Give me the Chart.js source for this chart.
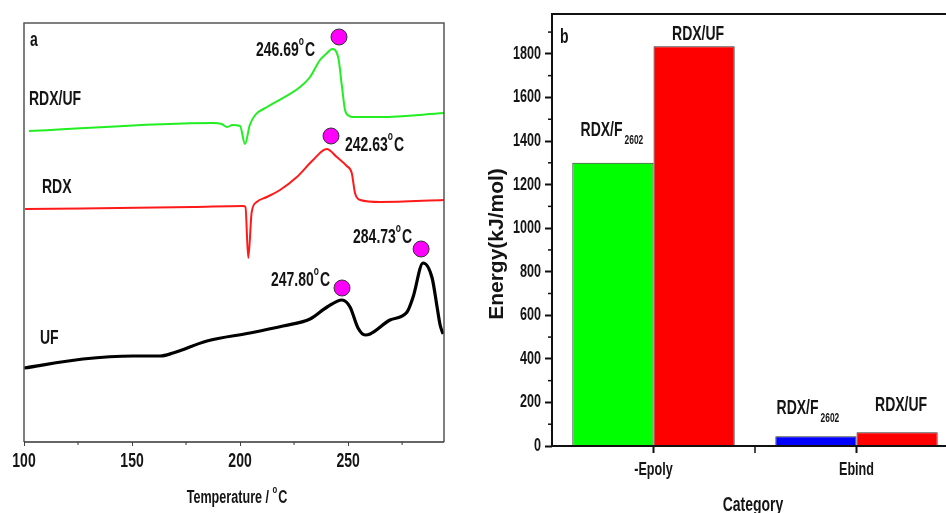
<!DOCTYPE html>
<html>
<head>
<meta charset="utf-8">
<script src="https://cdn.jsdelivr.net/npm/chart.js@4.4.1/dist/chart.umd.min.js"></script>
<style>
  html, body { margin: 0; padding: 0; background: #fff; overflow: hidden; width: 946px; height: 513px; }
  #dsc { position: absolute; left: 0; top: 0; }
  #energy { position: absolute; left: 470px; top: 0; }
</style>
</head>
<body>
<canvas id="dsc" width="470" height="513"></canvas>
<canvas id="energy" width="490" height="513"></canvas>
<script>
// ---- panel a : DSC curves (heat flow in arbitrary units) ----
const temp_rdxuf = [102.3, 187.5, 191.5, 194, 196.5, 200, 202.3, 204.5, 207, 212.5, 227.8, 232.4, 237, 240.3, 242.6, 245.4, 247.2, 248.6, 250.5, 252.3, 264.8, 294.4]
const heat_rdxuf = [31.1, 31.9, 31.8, 31.5, 31.7, 31.6, 29.8, 31.7, 32.7, 33.5, 35.5, 36.5, 38.2, 38.9, 39.3, 38.5, 35.5, 33.2, 32.6, 32.5, 32.5, 32.9]

const temp_rdx = [100.5, 178.2, 201.4, 202.5, 203.8, 205.4, 207.7, 212.4, 218.5, 226.3, 233.8, 240.1, 244.8, 249.4, 251.7, 253.2, 255.6, 264.8, 294.4]
const heat_rdx = [23.3, 23.5, 23.6, 23.5, 18.4, 23.0, 24.0, 24.5, 25.2, 26.5, 28.2, 29.3, 28.5, 27.6, 26.9, 24.9, 24.2, 24.0, 24.2]

const temp_uf = [100, 127.3, 150.5, 163, 169, 184.7, 204.6, 219.9, 232.4, 240.3, 247.2, 250.9, 254.6, 257.9, 260.2, 269.4, 277.3, 280.1, 284.7, 288.9, 291.2, 292.6, 294]
const heat_uf = [7.4, 8.3, 8.6, 8.6, 8.9, 10.1, 10.9, 11.6, 12.3, 13.5, 14.2, 13.5, 11.4, 10.7, 10.8, 12.2, 13.0, 14.5, 17.9, 16.4, 13.5, 11.7, 10.8]

const peak_temp = [245.8, 242.1, 247.2, 283.8]
const peak_heat = [40.5, 30.6, 15.4, 19.3]
const peak_text = ["246.69", "242.63", "247.80", "284.73"]

const temp_ticks = [100, 150, 200, 250]

// ---- panel b : energies ----
const categories = ["-Epoly", "Ebind"]
const energy_f2602 = [1300, 45]
const energy_uf = [1835, 63]
const energy_ticks = [0, 200, 400, 600, 800, 1000, 1200, 1400, 1600, 1800]

const FONT = "'Liberation Sans', Arial, sans-serif"
const TXT = "#141414"
const SQ = 0.7   // horizontal squeeze, the figure uses a narrow bold face

// bold text squeezed sideways; returns drawn width
function sq(ctx, text, x, y, size, align) {
    ctx.font = "bold " + size + "px " + FONT
    const w = ctx.measureText(text).width * SQ
    let x0 = x
    if (align == "right") x0 = x - w
    if (align == "center") x0 = x - w / 2
    ctx.save()
    ctx.translate(x0, y)
    ctx.scale(SQ, 1)
    ctx.textAlign = "left"
    ctx.textBaseline = "middle"
    ctx.fillText(text, 0, 0)
    ctx.restore()
    return w
}

function sqWidth(ctx, text, size) {
    ctx.font = "bold " + size + "px " + FONT
    return ctx.measureText(text).width * SQ
}

// text followed by a superscript "o" and C
function degText(ctx, str, x, y, align, size) {
    const small = Math.round(size * 0.6)
    const total = sqWidth(ctx, str, size) + sqWidth(ctx, "o", small) + sqWidth(ctx, "C", size) + 1
    let x0 = x
    if (align == "right") x0 = x - total
    if (align == "center") x0 = x - total / 2
    x0 += sq(ctx, str, x0, y, size, "left")
    x0 += sq(ctx, "o", x0, y - size * 0.42, small, "left") + 1
    sq(ctx, "C", x0, y, size, "left")
}

function zip(xs, ys) {
    return xs.map((x, i) => ({ x: x, y: ys[i] }))
}

const dscDecor = {
    id: "dscDecor",
    afterDraw(chart) {
        const ctx = chart.ctx
        const a = chart.chartArea
        const xs = chart.scales.x
        const ys = chart.scales.y
        ctx.save()
        // frame
        ctx.strokeStyle = "#555"
        ctx.lineWidth = 1.5
        ctx.beginPath()
        ctx.moveTo(a.left, a.bottom)
        ctx.lineTo(a.left, a.top)
        ctx.lineTo(a.right, a.top)
        ctx.lineTo(a.right, a.bottom)
        ctx.stroke()
        ctx.strokeStyle = "#333"
        ctx.beginPath()
        ctx.moveTo(a.left, a.bottom)
        ctx.lineTo(a.right, a.bottom)
        ctx.stroke()
        // minor ticks
        ctx.lineWidth = 1
        for (let t = 125; t < 295; t += 50) {
            const px = xs.getPixelForValue(t)
            ctx.beginPath()
            ctx.moveTo(px, a.bottom)
            ctx.lineTo(px, a.bottom + 3)
            ctx.stroke()
        }
        ctx.fillStyle = TXT
        // tick labels
        for (const t of xs.ticks)
            sq(ctx, String(t.value), xs.getPixelForValue(t.value), 461, 20, "center")
        // peak labels
        const offs = [[-24, 13, "right"], [14, 9, "left"], [-12, -8, "right"], [-9, -12, "right"]]
        for (let i = 0; i < peak_text.length; i++) {
            const px = xs.getPixelForValue(peak_temp[i])
            const py = ys.getPixelForValue(peak_heat[i])
            degText(ctx, peak_text[i], px + offs[i][0], py + offs[i][1], offs[i][2], 20)
        }
        // curve names
        sq(ctx, "RDX/UF", a.left + 5, 99, 20, "left")
        sq(ctx, "RDX", a.left + 18, 187, 20, "left")
        sq(ctx, "UF", a.left + 16, 338, 20, "left")
        sq(ctx, "a", a.left + 6, 40, 20, "left")
        // axis title
        degText(ctx, "Temperature / ", (a.left + a.right) / 2 + 3, 498, "center", 18)
        ctx.restore()
    }
}

new Chart(document.getElementById("dsc").getContext("2d"), {
    type: "scatter",
    data: {
        datasets: [
            { data: zip(temp_rdxuf, heat_rdxuf), borderColor: "#22ee22", borderWidth: 2 },
            { data: zip(temp_rdx, heat_rdx), borderColor: "#ff1a1a", borderWidth: 2 },
            { data: zip(temp_uf, heat_uf), borderColor: "#000", borderWidth: 3.2 },
            {
                data: zip(peak_temp, peak_heat), showLine: false, pointRadius: 8,
                backgroundColor: "#ff00ff", borderColor: "#333", borderWidth: 1
            }
        ]
    },
    options: {
        responsive: false,
        animation: false,
        showLine: true,
        elements: {
            point: { radius: 0 },
            line: { cubicInterpolationMode: "monotone" }
        },
        layout: { padding: { left: 24, top: 23, right: 26, bottom: 0 } },
        plugins: { legend: { display: false }, tooltip: { enabled: false } },
        scales: {
            x: {
                type: "linear",
                min: 100,
                max: 294.4,
                afterFit: (scale) => { scale.height = 71 },
                afterBuildTicks: (scale) => { scale.ticks = temp_ticks.map(v => ({ value: v })) },
                grid: { drawOnChartArea: false, tickLength: 4, tickColor: "#444" },
                border: { display: false },
                ticks: { display: false }
            },
            y: { display: false, min: 0, max: 41.9 }
        }
    },
    plugins: [dscDecor]
})

// ---- panel b ----
function subText(ctx, main, sub, cx, cy) {
    const w1 = sqWidth(ctx, main, 20)
    const w2 = sqWidth(ctx, sub, 12)
    const x0 = cx - (w1 + w2 + 2) / 2
    sq(ctx, main, x0, cy, 20, "left")
    sq(ctx, sub, x0 + w1 + 2, cy + 10, 12, "left")
}

const energyDecor = {
    id: "energyDecor",
    afterDraw(chart) {
        const ctx = chart.ctx
        const a = chart.chartArea
        const xs = chart.scales.x
        const ys = chart.scales.y
        ctx.save()
        ctx.strokeStyle = "#111"
        ctx.lineWidth = 2
        ctx.beginPath()
        ctx.moveTo(a.left, a.bottom)
        ctx.lineTo(a.left, a.top)
        ctx.lineTo(a.right, a.top)
        ctx.moveTo(a.left, a.bottom)
        ctx.lineTo(a.right, a.bottom)
        ctx.stroke()
        // minor y ticks
        ctx.lineWidth = 1.5
        for (let v = 100; v < 1983; v += 200) {
            const py = ys.getPixelForValue(v)
            ctx.beginPath()
            ctx.moveTo(a.left, py)
            ctx.lineTo(a.left - 4, py)
            ctx.stroke()
        }
        // tick between the categories
        const mid = (xs.getPixelForValue(0) + xs.getPixelForValue(1)) / 2
        ctx.beginPath()
        ctx.moveTo(mid, a.bottom)
        ctx.lineTo(mid, a.bottom + 7)
        ctx.stroke()
        ctx.fillStyle = TXT
        // tick labels
        for (const t of ys.ticks)
            sq(ctx, String(t.value), a.left - 11, ys.getPixelForValue(t.value), 18, "right")
        categories.forEach((c, i) => sq(ctx, c, xs.getPixelForValue(i), 470, 18, "center"))
        // bar labels
        const g = chart.getDatasetMeta(0).data
        const r = chart.getDatasetMeta(1).data
        subText(ctx, "RDX/F", "2602", g[0].x - 1, g[0].y - 32)
        subText(ctx, "RDX/F", "2602", g[1].x - 8, g[1].y - 28)
        sq(ctx, "RDX/UF", r[0].x + 4, r[0].y - 12, 20, "center")
        sq(ctx, "RDX/UF", r[1].x + 4, r[1].y - 27, 20, "center")
        sq(ctx, "b", a.left + 8, 37, 20, "left")
        // axis titles
        sq(ctx, "Category", 753 - 470, 505, 20, "center")
        ctx.translate(27, 244)
        ctx.rotate(-Math.PI / 2)
        ctx.font = "bold 21px " + FONT
        ctx.textAlign = "center"
        ctx.textBaseline = "middle"
        ctx.fillText("Energy(kJ/mol)", 0, 0)
        ctx.restore()
    }
}

new Chart(document.getElementById("energy").getContext("2d"), {
    type: "bar",
    data: {
        labels: categories,
        datasets: [
            { label: "RDX/F2602", data: energy_f2602, backgroundColor: ["#00ff00", "#0000ff"] },
            { label: "RDX/UF", data: energy_uf, backgroundColor: "#ff0000" }
        ]
    },
    options: {
        responsive: false,
        animation: false,
        datasets: {
            bar: {
                categoryPercentage: 0.8,
                barPercentage: 1.0,
                borderColor: "#333",
                borderWidth: 1,
                borderSkipped: "start"
            }
        },
        layout: { padding: { left: 0, top: 14, right: 2, bottom: 0 } },
        plugins: { legend: { display: false }, tooltip: { enabled: false } },
        scales: {
            x: {
                afterFit: (scale) => { scale.height = 67 },
                grid: { offset: false, drawOnChartArea: false, tickLength: 7, tickWidth: 2, tickColor: "#111" },
                border: { display: false },
                ticks: { display: false }
            },
            y: {
                min: 0,
                max: 1983,
                afterFit: (scale) => { scale.width = 82 },
                afterBuildTicks: (scale) => { scale.ticks = energy_ticks.map(v => ({ value: v })) },
                grid: { drawOnChartArea: false, tickLength: 7, tickWidth: 2, tickColor: "#111" },
                border: { display: false },
                ticks: { display: false }
            }
        }
    },
    plugins: [energyDecor]
})
</script>
</body>
</html>
